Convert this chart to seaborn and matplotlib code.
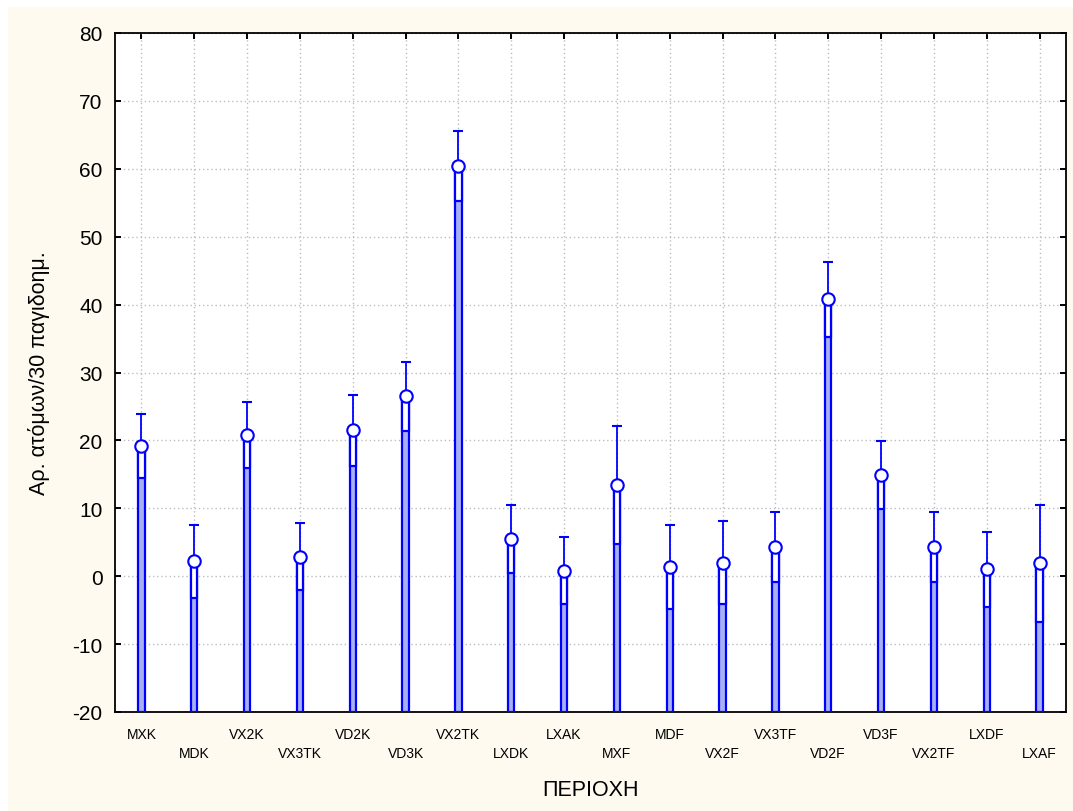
import numpy as np
import pandas as pd
import matplotlib
matplotlib.use("Agg")
import matplotlib.pyplot as plt
from matplotlib.patches import Rectangle
import seaborn as sns

categories = ["MXK", "MDK", "VX2K", "VX3TK", "VD2K", "VD3K", "VX2TK", "LXDK", "LXAK",
              "MXF", "MDF", "VX2F", "VX3TF", "VD2F", "VD3F", "VX2TF", "LXDF", "LXAF"]
means = [19.2, 2.2, 20.8, 2.9, 21.5, 26.5, 60.4, 5.5, 0.8,
         13.4, 1.3, 2.0, 4.3, 40.8, 14.9, 4.3, 1.0, 1.9]
errors = [4.7, 5.4, 4.9, 5.0, 5.2, 5.1, 5.1, 5.0, 4.9,
          8.7, 6.2, 6.1, 5.1, 5.5, 5.0, 5.1, 5.5, 8.6]
y_ticks = [-20, -10, 0, 10, 20, 30, 40, 50, 60, 70, 80]
x_title = "ΠΕΡΙΟΧΗ"
y_title = "Αρ. ατόμων/30 παγιδοημ."

YMIN, YMAX = -20, 80
BLUE = "#0000FF"

sns.set_style("ticks")
plt.rcParams["font.family"] = ["Liberation Sans", "DejaVu Sans"]
plt.rcParams.update({"text.color": "black", "axes.labelcolor": "black",
                     "xtick.color": "black", "ytick.color": "black",
                     "xtick.labelcolor": "black", "ytick.labelcolor": "black"})

df = pd.DataFrame({"cat": categories, "mean": means, "err": errors})
df["height"] = df["mean"] - YMIN
df["box_bottom"] = df["mean"] - df["err"]

fig = plt.figure(figsize=(10.73, 8.12), dpi=100, facecolor="white")
fig.patches.append(Rectangle((8 / 1073, 0), 1, 1 - 8 / 812, transform=fig.transFigure,
                             facecolor="#FFFAF0", edgecolor="none", zorder=-10))
ax = fig.add_axes([115 / 1073, 1 - 713 / 812, (1066 - 115) / 1073, (713 - 34) / 812])
ax.set_facecolor("white")

# main bars from the bottom of the axis up to the mean
sns.barplot(data=df, x="cat", y="height", bottom=YMIN, width=0.12, color="#A8B2F2",
            edgecolor=BLUE, linewidth=1.6, errorbar=None, saturation=1, ax=ax, zorder=3)
# error box (mean - err .. mean)
sns.barplot(data=df, x="cat", y="err", bottom=df["box_bottom"].to_numpy(), width=0.12,
            color="white", edgecolor=BLUE, linewidth=1.6, errorbar=None, saturation=1,
            ax=ax, zorder=4)
# upper whisker
pos = np.arange(len(categories))
ax.errorbar(pos, df["mean"], yerr=[np.zeros(len(pos)), df["err"]], fmt="none",
            ecolor=BLUE, elinewidth=1.3, capsize=3.5, capthick=1.5, zorder=5)
# mean circles
sns.scatterplot(data=df, x="cat", y="mean", s=80, color="white", edgecolor=BLUE,
                linewidth=1.5, ax=ax, zorder=6)

ax.set_xlim(-0.5, len(categories) - 0.5)
ax.set_ylim(YMIN, YMAX)
ax.set_yticks(y_ticks)
ax.set_yticklabels([str(v) for v in y_ticks], fontsize=15)
ax.set_xticks(pos)
ax.set_xticklabels([c if i % 2 == 0 else "\n" + c for i, c in enumerate(categories)],
                   fontsize=10, linespacing=1.4)

ax.grid(True, linestyle=(0, (1, 2)), color="#BDBDBD", linewidth=1.0)
ax.set_axisbelow(True)
for s in ax.spines.values():
    s.set_visible(True)
    s.set_linewidth(1.3)
    s.set_color("black")
ax.tick_params(axis="both", direction="in", top=True, right=True, length=4, width=1.4,
               color="black")
ax.tick_params(axis="y", pad=9)
ax.tick_params(axis="x", pad=11)

ax.set_xlabel(x_title, fontsize=15.5, labelpad=14)
ax.set_ylabel(y_title, fontsize=15.5, labelpad=16)

fig.savefig("out.png", dpi=100, facecolor=fig.get_facecolor())
